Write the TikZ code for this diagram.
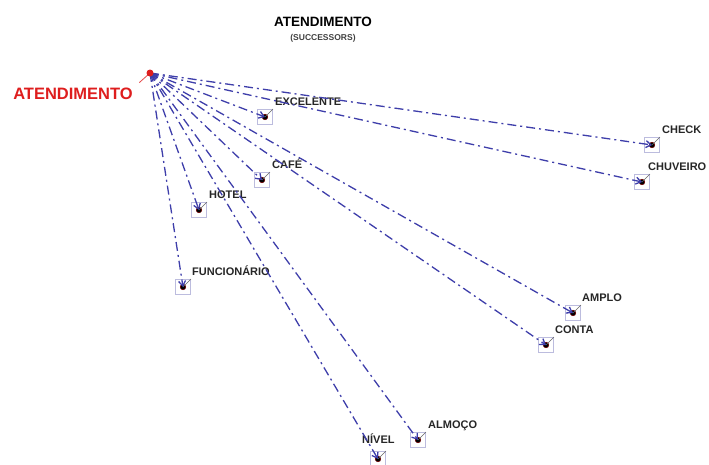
\documentclass[tikz,border=0pt]{standalone}
\usepackage{fontspec}
\setmainfont{Liberation Sans}
\usepackage{xcolor}
\usetikzlibrary{arrows.meta}
\definecolor{succblue}{RGB}{62,62,170}
\definecolor{boxline}{RGB}{188,188,222}
\definecolor{srcred}{RGB}{222,30,30}
% box with dot and tick, then its label
\newcommand{\term}[5]{%
  \node[termbox] (#1) at (#2,#3) {};
  \fill[termdot] (#1.center) circle (2.8pt);
  \draw[termtick] (#1.center) -- (#1.north east);
  \node[termlbl] (#1-lbl) at ([shift={#5}]#1.center) {#4};
}

\begin{document}
\begin{tikzpicture}[x=1pt, y=-1pt,
  termbox/.style={draw=boxline, line width=0.9pt, minimum size=15pt, inner sep=0pt},
  termdot/.style={fill=black, draw=red!45!black, line width=0.5pt},
  termtick/.style={draw=black!60, line width=0.5pt},
  termlbl/.style={anchor=base west, inner sep=0pt, font=\fontsize{11}{13}\selectfont\bfseries, text=black!85},
  succ/.style={succblue, line width=1.3pt, dash pattern=on 9pt off 4pt on 2pt off 4pt, -{Straight Barb[length=5pt, width=7pt]}}]
\useasboundingbox (0,0) rectangle (709,464);
\node[font=\fontsize{13.5}{15}\selectfont\bfseries] (title) at (323,22) {ATENDIMENTO};
\node[font=\fontsize{8.5}{10}\selectfont\bfseries, text=black!75] (subtitle) at (323,38) {(SUCCESSORS)};

\coordinate (src) at (150,73);
\term{excelente}{265}{117}{EXCELENTE}{(10,-12)}
\term{check}{652}{145}{CHECK}{(10,-12)}
\term{chuveiro}{642}{182}{CHUVEIRO}{(6,-12)}
\term{cafe}{262}{180}{CAFÉ}{(10,-12)}
\term{hotel}{199}{210}{HOTEL}{(10,-12)}
\term{funcionario}{183}{287}{FUNCIONÁRIO}{(9,-12)}
\term{amplo}{573}{313}{AMPLO}{(9,-12)}
\term{conta}{546}{345}{CONTA}{(9,-12)}
\term{almoco}{418}{440}{ALMOÇO}{(10,-12)}
\term{nivel}{378}{459}{NÍVEL}{(-16,-16)}

\draw[succ] (src) -- (excelente.center);
\draw[succ] (src) -- (check.center);
\draw[succ] (src) -- (chuveiro.center);
\draw[succ] (src) -- (cafe.center);
\draw[succ] (src) -- (hotel.center);
\draw[succ] (src) -- (funcionario.center);
\draw[succ] (src) -- (amplo.center);
\draw[succ] (src) -- (conta.center);
\draw[succ] (src) -- (almoco.center);
\draw[succ] (src) -- (nivel.center);

\node[font=\fontsize{16.5}{18}\selectfont\bfseries, text=srcred] (srclbl) at (73,94) {ATENDIMENTO};
\draw[srcred!80, line width=0.8pt] ([shift={(3,-2)}]srclbl.north east) -- (src);
\fill[srcred] (src) circle (3.5pt);
\end{tikzpicture}
\end{document}
